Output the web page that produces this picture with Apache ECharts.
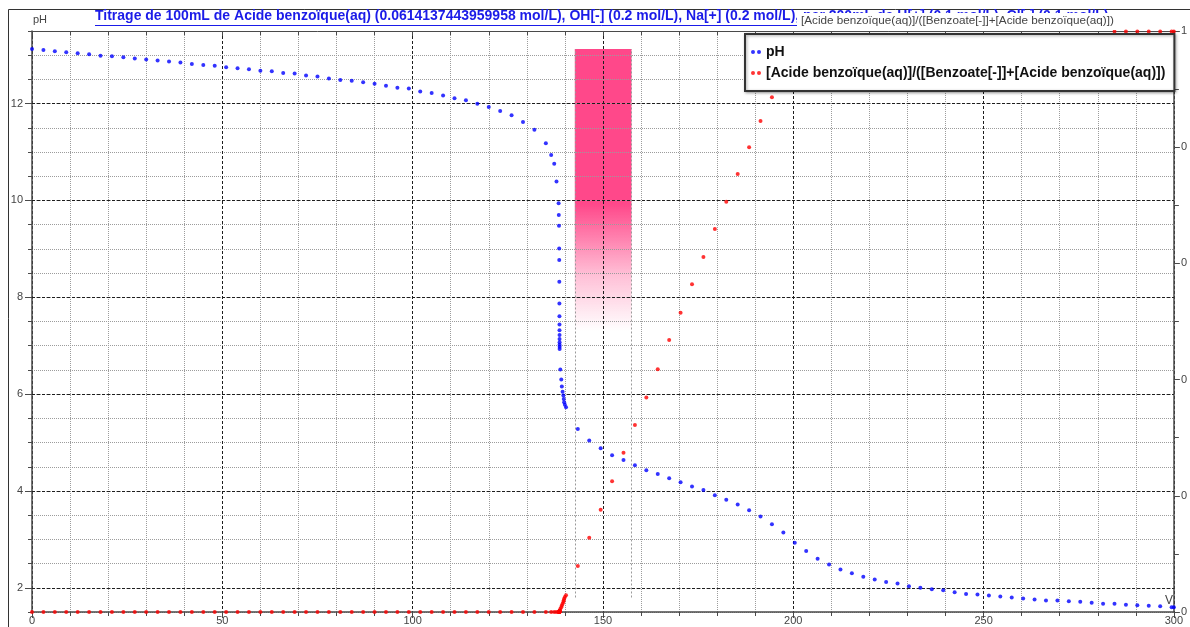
<!DOCTYPE html>
<html>
<head>
<meta charset="utf-8">
<script src="https://cdn.jsdelivr.net/npm/echarts@6/dist/echarts.min.js"></script>
<style>
html,body{margin:0;padding:0;background:#fff;}
#c{width:1190px;height:627px;}
</style>
</head>
<body>
<div id="c"></div>
<script>
// ---------------- DATA ----------------
const titleText = 'Titrage de 100mL de Acide benzoïque(aq) (0.0614137443959958 mol/L), OH[-] (0.2 mol/L), Na[+] (0.2 mol/L), par 200mL de H[+] (0.1 mol/L), Cl[-] (0.1 mol/L)';
const leftAxisName = 'pH';
const bottomAxisName = 'V';
const rightAxisName = '[Acide benzoïque(aq)]/([Benzoate[-]]+[Acide benzoïque(aq)])';
const seriesNames = ['pH', '[Acide benzoïque(aq)]/([Benzoate[-]]+[Acide benzoïque(aq)])'];

// added volume (mL)
const volumes = [
  0,3,6,9,12,15,18,21,24,27,30,33,36,39,42,45,48,51,54,57,60,63,66,69,72,75,78,81,84,87,90,93,96,
  99,102,105,108,111,114,117,120,123,126,129,132,135,
  136.4,137.2,137.8,
  138.35,138.4,138.45,138.5,138.52,138.54,138.56,138.57,138.58,138.59,138.6,138.6,138.61,138.61,138.62,138.62,
  138.8,139.05,139.2,139.4,139.6,139.7,139.8,140.0,140.3,
  143.4,146.4,149.4,152.4,155.4,158.4,161.4,164.4,167.4,170.4,173.4,176.4,179.4,182.4,185.4,188.4,191.4,194.4,197.4,200.4,203.4,206.4,
  209.4,212.4,215.4,218.4,221.4,
  224.4,227.4,230.4,233.4,236.4,239.4,242.4,245.4,248.4,251.4,254.4,257.4,260.4,263.4,266.4,269.4,272.4,275.4,278.4,281.4,
  284.4,287.4,290.4,293.4,296.4,299.4,300
];

// pH (left axis)
const phValues = [
  13.13,13.11,13.08,13.06,13.04,13.02,12.99,12.98,12.96,12.93,12.91,12.89,12.87,12.85,12.82,12.80,12.78,12.75,12.73,12.71,12.68,12.67,12.63,12.62,12.58,12.56,12.52,12.49,12.47,12.44,12.41,12.37,12.33,
  12.31,12.25,12.22,12.17,12.11,12.07,12.00,11.93,11.85,11.76,11.62,11.46,11.18,
  10.94,10.76,10.39,
  9.94,9.70,9.48,9.01,8.77,8.32,7.87,7.61,7.44,7.32,7.22,7.14,7.07,7.02,6.98,6.93,
  6.51,6.30,6.16,6.05,5.97,5.90,5.83,5.78,5.73,
  5.28,5.04,4.88,4.74,4.64,4.53,4.43,4.35,4.26,4.18,4.09,4.02,3.91,3.82,3.72,3.60,3.47,3.31,3.14,2.93,2.76,2.60,
  2.48,2.38,2.30,2.23,2.17,
  2.12,2.09,2.03,2.00,1.97,1.95,1.91,1.87,1.86,1.84,1.82,1.80,1.78,1.76,1.74,1.74,1.72,1.71,1.69,1.67,
  1.67,1.65,1.64,1.63,1.62,1.60,1.60
];

// [Acide]/([Benzoate]+[Acide]) (right axis)
const ratioValues = [
  0,0,0,0,0,0,0,0,0,0,0,0,0,0,0,0,0,0,0,0,0,0,0,0,0,0,0,0,0,0,0,0,0,
  0,0,0,0,0,0,0,0,0,0,0,0,0,
  0,0,0,
  0,0,0,0,0,0,0,0,0,0.001,0.001,0.001,0.001,0.002,0.002,0.002,
  0.005,0.008,0.011,0.014,0.017,0.020,0.023,0.026,0.029,
  0.079,0.128,0.176,0.225,0.274,0.322,0.369,0.418,0.468,0.515,0.564,0.611,0.659,0.706,0.754,0.800,0.845,0.886,0.920,0.945,0.962,0.973,
  0.980,0.983,0.985,0.987,0.988,
  0.988,0.988,0.989,0.989,0.989,0.989,0.989,0.990,0.990,0.990,0.990,0.990,0.990,0.990,0.990,0.990,0.990,0.990,0.990,0.990,
  0.999,0.999,0.999,0.999,0.999,0.999,0.999
];

// indicator colour-change zone (volume range, pH range)
const zoneVolumes = [142.6, 157.5];
const zonePh = [7.3, 13.13];
const zoneLinePh = [1.8, 13.13];

// axis ranges / ticks
const xRange = [0, 300], xMajor = 50, xMinorSplit = 5;
const yRange = [1.5, 13.5], yMinorStep = 0.5;
const yMajorValues = [2, 4, 6, 8, 10, 12];
const rRange = [0, 1], rTick = 0.2;

// ---------------- CHART ----------------
const FONT = '"Liberation Sans", Arial, Helvetica, sans-serif';
const chart = echarts.init(document.getElementById('c'), null, {renderer: 'canvas'});

const TITLE_SIZE = 14;
const mctx = document.createElement('canvas').getContext('2d');
mctx.font = 'bold ' + TITLE_SIZE + 'px ' + FONT;
const titleW = mctx.measureText(titleText).width;

const minorGrid = '#9c9c9c';
const majorGrid = '#1e1e1e';
const minorType = [1, 1];
const majorType = [3, 2];
const axisColor = '#4a4a4a';
const titleColor = '#1b1be8';

const pink = new echarts.graphic.LinearGradient(0, 0, 0, 1, [
  {offset: 0, color: 'rgba(255,72,138,1)'},
  {offset: 0.55, color: 'rgba(255,72,138,1)'},
  {offset: 0.8, color: 'rgba(255,72,138,0.35)'},
  {offset: 1, color: 'rgba(255,72,138,0)'}
]);

const option = {
  animation: false,
  textStyle: {fontFamily: FONT},
  title: {
    text: titleText,
    left: 95, top: 9, padding: 0,
    textStyle: {fontFamily: FONT, fontSize: TITLE_SIZE, fontWeight: 'bold', color: titleColor}
  },
  legend: {
    data: seriesNames,
    orient: 'vertical',
    left: 745, top: 34,
    padding: [11, 9, 11, 6],
    itemGap: 7,
    itemWidth: 10, itemHeight: 4,
    icon: 'path://M2,0A2,2 0 1 1 2,4A2,2 0 1 1 2,0ZM8,0A2,2 0 1 1 8,4A2,2 0 1 1 8,0Z',
    textStyle: {fontFamily: FONT, fontSize: 14, fontWeight: 'bold', color: '#111'},
    backgroundColor: '#fff',
    borderColor: '#333', borderWidth: 2,
    shadowColor: 'rgba(0,0,0,0.35)', shadowBlur: 3, shadowOffsetX: 1, shadowOffsetY: 1,
    selectedMode: false,
    z: 20
  },
  grid: {left: 32, right: 16, top: 31, bottom: 15, containLabel: false},
  xAxis: [
    {
      type: 'value', min: xRange[0], max: xRange[1], interval: xMajor, position: 'bottom', z: 3,
      axisLine: {show: true, onZero: false, lineStyle: {color: axisColor, width: 1.5}},
      axisTick: {show: true, length: 6, lineStyle: {color: axisColor}},
      minorTick: {show: true, splitNumber: xMinorSplit, length: 4, lineStyle: {color: axisColor}},
      axisLabel: {fontFamily: FONT, fontSize: 11, color: '#444', margin: 3},
      splitLine: {show: true, lineStyle: {color: majorGrid, type: majorType, width: 1}},
      minorSplitLine: {show: true, lineStyle: {color: minorGrid, type: minorType, width: 1}}
    },
    {
      type: 'value', min: xRange[0], max: xRange[1], interval: xMajor, position: 'top', z: 3,
      axisLine: {show: true, onZero: false, lineStyle: {color: axisColor, width: 1}},
      axisTick: {show: true, inside: true, length: 5, lineStyle: {color: axisColor}},
      minorTick: {show: true, splitNumber: xMinorSplit, length: 4, lineStyle: {color: axisColor}},
      axisLabel: {show: false},
      splitLine: {show: false}
    }
  ],
  yAxis: [
    {
      type: 'value', min: yRange[0], max: yRange[1], interval: yMinorStep, position: 'left', z: 3,
      axisLine: {show: true, onZero: false, lineStyle: {color: axisColor, width: 1.5}},
      axisTick: {show: true, length: 4, lineStyle: {color: axisColor}},
      axisLabel: {show: false},
      splitLine: {show: true, lineStyle: {color: minorGrid, type: minorType, width: 1}}
    },
    {
      type: 'value', min: rRange[0], max: rRange[1], interval: rTick, position: 'right', z: 3,
      axisLine: {show: true, onZero: false, lineStyle: {color: axisColor, width: 1.5}},
      axisTick: {show: true, length: 6, lineStyle: {color: axisColor}},
      minorTick: {show: true, splitNumber: 2, length: 5, lineStyle: {color: axisColor}},
      axisLabel: {fontFamily: FONT, fontSize: 11, color: '#444', margin: 7,
        formatter: v => String(Math.trunc(v))},
      splitLine: {show: false}
    },
    {
      type: 'value', min: yRange[0], max: yRange[1], position: 'left', z: 4,
      axisLine: {show: false, onZero: false},
      axisTick: {show: true, length: 7, customValues: yMajorValues, lineStyle: {color: axisColor}},
      axisLabel: {show: true, customValues: yMajorValues, fontFamily: FONT, fontSize: 11, color: '#444', margin: 9},
      splitLine: {show: true, lineStyle: {color: majorGrid, type: majorType, width: 1}}
    }
  ],
  series: [
    {
      name: 'zone', type: 'line', data: [], z: 1,
      markArea: {
        silent: true,
        label: {show: false},
        itemStyle: {color: pink, borderWidth: 0},
        data: [[{coord: [zoneVolumes[0], zonePh[1]]}, {coord: [zoneVolumes[1], zonePh[0]]}]]
      },
      markLine: {
        silent: true, symbol: 'none',
        label: {show: false},
        lineStyle: {color: '#9a9a9a', type: [2, 2], width: 1},
        data: [
          [{coord: [zoneVolumes[0], zoneLinePh[0]]}, {coord: [zoneVolumes[0], zoneLinePh[1]]}],
          [{coord: [zoneVolumes[1], zoneLinePh[0]]}, {coord: [zoneVolumes[1], zoneLinePh[1]]}]
        ]
      }
    },
    {
      name: seriesNames[0], type: 'scatter', xAxisIndex: 0, yAxisIndex: 0,
      data: volumes.map((v, i) => [v, phValues[i]]),
      symbolSize: 4, itemStyle: {color: '#0000ff'}, z: 5
    },
    {
      name: seriesNames[1], type: 'scatter', xAxisIndex: 0, yAxisIndex: 1,
      data: volumes.map((v, i) => [v, ratioValues[i]]),
      symbolSize: 4, itemStyle: {color: '#ff0000'}, z: 5
    }
  ],
  graphic: [
    {type: 'rect', silent: true, z: 0, shape: {x: 8.5, y: 9.5, width: 1200, height: 640},
      style: {fill: 'transparent', stroke: '#333', lineWidth: 1}},
    {type: 'line', silent: true, z: 10, shape: {x1: 95, y1: 25.5, x2: 95 + titleW, y2: 25.5},
      style: {stroke: titleColor, lineWidth: 1}},
    {type: 'text', silent: true, z: 50, left: 797, top: 13,
      style: {text: rightAxisName, font: '11.7px ' + FONT, fill: '#444', backgroundColor: '#fff', padding: [2, 3, 3, 4]}},
    {type: 'text', silent: true, z: 10, left: 33, top: 14,
      style: {text: leftAxisName, font: '11px ' + FONT, fill: '#444'}},
    {type: 'text', silent: true, z: 10, left: 1165, top: 595,
      style: {text: bottomAxisName, font: '12px ' + FONT, fill: '#444'}}
  ]
};
chart.setOption(option);
</script>
</body>
</html>
